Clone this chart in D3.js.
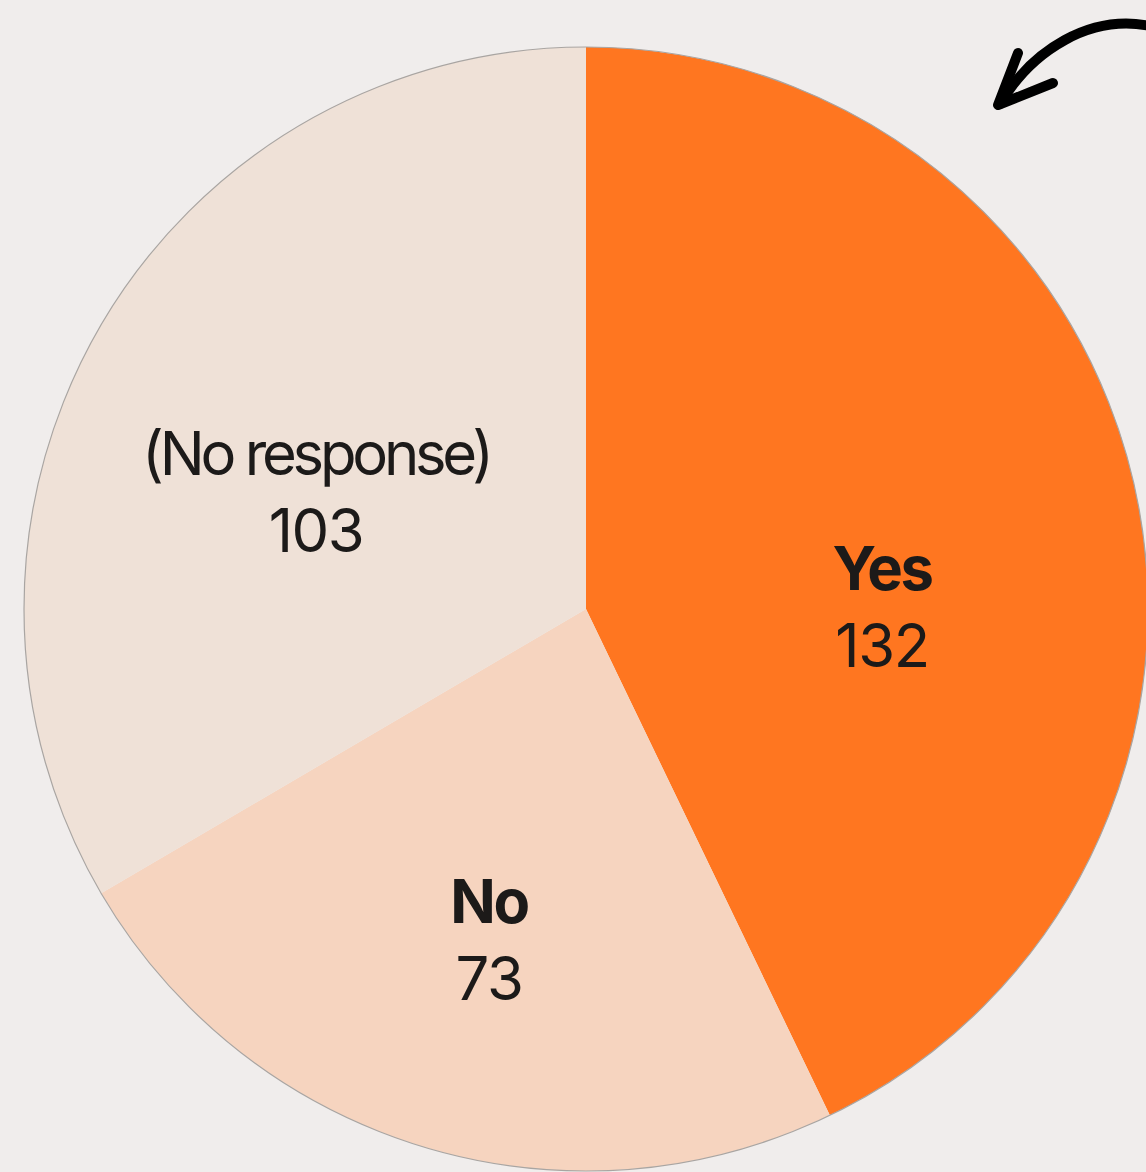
<!DOCTYPE html>
<html><head><meta charset="utf-8">
<script src="https://cdn.jsdelivr.net/npm/d3@7"></script>
<style>html,body{margin:0;padding:0;background:#f0edec;}svg{display:block;}</style>
</head><body>
<script>
const categories = ["Yes", "No", "(No response)"];
const values = [132, 73, 103];
const colors = ["#ff7620", "#f6d4bf", "#efe1d7"];
// label anchor (x, name baseline) in page pixels — layout, not data
const labelX = [882, 489, 316];
const labelY = [590, 923, 475];

const W = 1146, H = 1172;
const cx = 586, cy = 609, R = 562;
const svg = d3.select("body").append("svg").attr("width", W).attr("height", H);
svg.append("rect").attr("width", W).attr("height", H).attr("fill", "#f0edec");

const data = categories.map((c, i) => ({cat: c, val: values[i], col: colors[i]}));
const pie = d3.pie().value(d => d.val).sort(null);
const arcs = pie(data);
const arc = d3.arc().innerRadius(0).outerRadius(R);
const g = svg.append("g").attr("transform", `translate(${cx},${cy})`);
g.selectAll("path.slice").data(arcs).enter().append("path")
  .attr("class", "slice").attr("d", arc).attr("fill", d => d.data.col);
g.append("circle").attr("r", R).attr("fill", "none").attr("stroke", "#a9a5a2").attr("stroke-width", 1.2);

arcs.forEach((a, i) => {
  const x = labelX[i], y = labelY[i];
  const lt = svg.append("g").attr("transform", `translate(${x},0) scale(0.98,1)`);
  lt.append("text").attr("text-anchor", "middle").attr("x", 0).attr("y", y)
    .attr("font-family", "Inter, 'Noto Sans', sans-serif").attr("font-size", 61)
    .attr("font-weight", i === 2 ? 400 : 700).attr("fill", "#1c1a19")
    .attr("letter-spacing", i === 2 ? -4.3 : -2.5).text(a.data.cat);
  lt.append("text").attr("text-anchor", "middle").attr("x", 0).attr("y", y + 77)
    .attr("font-family", "Inter, 'Noto Sans', sans-serif").attr("font-size", 61)
    .attr("font-weight", 400).attr("fill", "#1c1a19")
    .attr("letter-spacing", -1.5).text(a.data.val);
});

// hand-drawn arrow
svg.append("path").attr("d", "M1150,26 C1090,14 1032,50 1000,104")
  .attr("fill", "none").attr("stroke", "#000").attr("stroke-width", 10).attr("stroke-linecap", "round");
svg.append("path").attr("d", "M1018,53 L998,105 L1053,83")
  .attr("fill", "none").attr("stroke", "#000").attr("stroke-width", 10)
  .attr("stroke-linecap", "round").attr("stroke-linejoin", "round");
</script>
</body></html>
